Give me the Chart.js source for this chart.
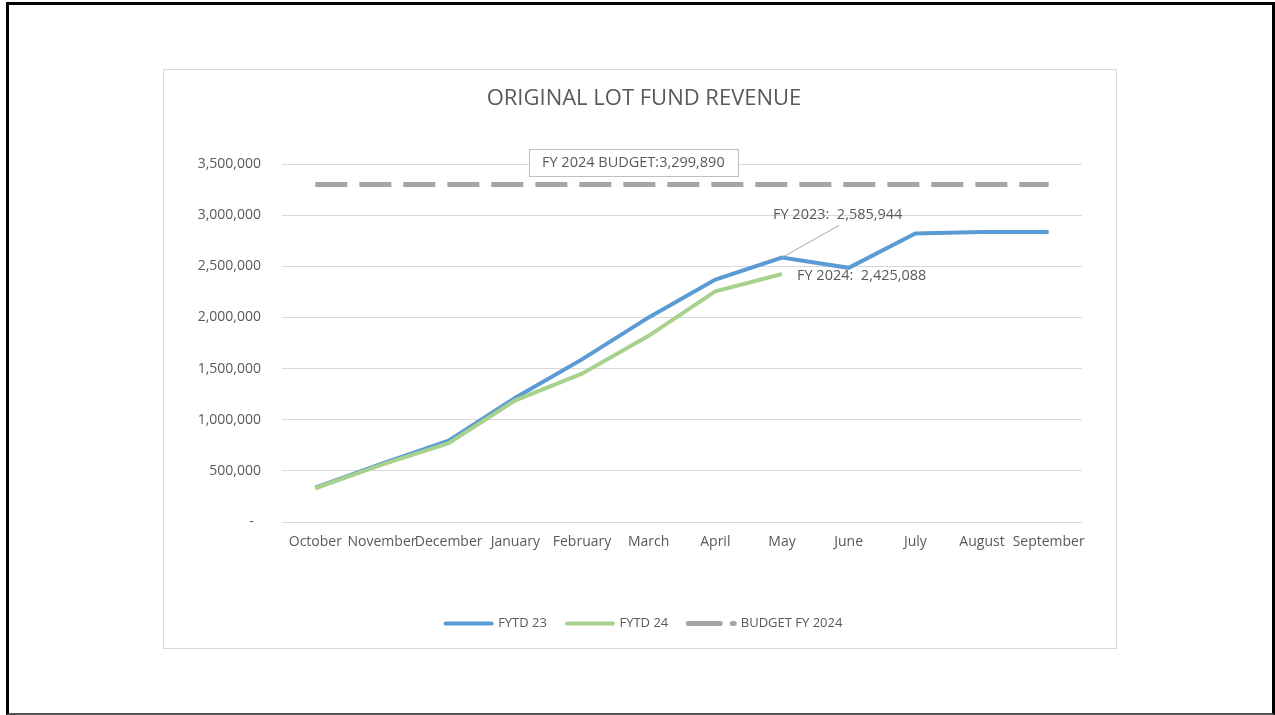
<!DOCTYPE html>
<html>
<head>
<meta charset="utf-8">
<script src="https://cdn.jsdelivr.net/npm/chart.js@4.4.1/dist/chart.umd.min.js"></script>
<style>
  html, body { margin: 0; padding: 0; background: #fff; }
  body { width: 1275px; height: 715px; position: relative; overflow: hidden; }
  #frame { position: absolute; left: 6px; top: 2px; width: 1263px; height: 708px;
           border-left: 3px solid #000; border-top: 3px solid #000; border-right: 3px solid #000; border-bottom: 2px solid #555; }
  #box { position: absolute; left: 163px; top: 69px; width: 952px; height: 578px; border: 1px solid #D9D9D9; background: #fff; }
  canvas { display: block; }
</style>
</head>
<body>
<div id="frame"></div>
<div id="box"><canvas id="c" width="952" height="578"></canvas></div>
<script>
const months = ['October','November','December','January','February','March','April','May','June','July','August','September'];
const fytd23 = [335000, 570000, 795000, 1215000, 1590000, 2000000, 2370000, 2585944, 2485000, 2820000, 2835000, 2835000];
const fytd24 = [330000, 560000, 770000, 1190000, 1450000, 1820000, 2255000, 2425088, null, null, null, null];
const budgetValue = 3299890;
const budget = months.map(() => budgetValue);
const yTicks = [0, 500000, 1000000, 1500000, 2000000, 2500000, 3000000, 3500000];
const budgetLabel = 'FY 2024 BUDGET:3,299,890';
const label23 = 'FY 2023:  2,585,944';
const label24 = 'FY 2024:  2,425,088';

const FONT = "'Open Sans', 'Liberation Sans', sans-serif";
const TXT = '#595959';

const annot = {
  id: 'annot',
  afterLayout(chart) {
    if (chart.legend) { chart.legend.left += 21; chart.legend.right += 21; }
    if (chart.titleBlock) { chart.titleBlock.left += 21; chart.titleBlock.right += 21; }
  },
  afterDatasetsDraw(chart) {
    const ctx = chart.ctx, x = chart.scales.x, y = chart.scales.y;
    ctx.save();
    ctx.font = '14.5px ' + FONT;
    ctx.fillStyle = TXT;
    ctx.textBaseline = 'middle';
    // Budget label box
    const by = y.getPixelForValue(budgetValue);
    const bx = x.getPixelForValue(4.77);
    const tw = ctx.measureText(budgetLabel).width;
    const bw = tw + 26, bh = 27;
    ctx.fillStyle = '#fff';
    ctx.fillRect(bx - bw/2, by - 22 - bh/2, bw, bh);
    ctx.strokeStyle = '#BFBFBF'; ctx.lineWidth = 1;
    ctx.strokeRect(Math.round(bx - bw/2) + 0.5, Math.round(by - 22 - bh/2) + 0.5, Math.round(bw), bh);
    ctx.fillStyle = TXT; ctx.textAlign = 'center';
    ctx.fillText(budgetLabel, bx, by - 22);
    // FY 2023 label with leader line
    const mx = x.getPixelForValue(7);
    const my = y.getPixelForValue(fytd23[7]);
    ctx.strokeStyle = '#A6A6A6'; ctx.lineWidth = 1;
    ctx.beginPath(); ctx.moveTo(mx, my); ctx.lineTo(mx + 57, my - 32); ctx.stroke();
    ctx.textAlign = 'left';
    ctx.fillText(label23, mx - 9, my - 43);
    // FY 2024 label
    const gy = y.getPixelForValue(fytd24[7]);
    ctx.fillText(label24, mx + 15, gy + 2);
    ctx.restore();
  }
};

new Chart(document.getElementById('c'), {
  type: 'line',
  data: {
    labels: months,
    datasets: [
      { label: 'FYTD 23', data: fytd23, borderColor: '#5B9BD5', backgroundColor: '#5B9BD5', borderWidth: 4, pointRadius: 0, tension: 0, order: 2 },
      { label: 'FYTD 24', data: fytd24, borderColor: '#A9D18E', backgroundColor: '#A9D18E', borderWidth: 4, pointRadius: 0, tension: 0, order: 1 },
      { label: 'BUDGET FY 2024', data: budget, borderColor: '#A5A5A5', backgroundColor: '#A5A5A5', borderWidth: 5, borderDash: [32, 12], pointRadius: 0, order: 3 }
    ]
  },
  options: {
    responsive: false,
    animation: false,
    layout: { padding: { left: 0, right: 34, top: 0, bottom: 8 } },
    plugins: {
      title: { display: true, text: 'ORIGINAL LOT FUND REVENUE', color: TXT, font: { family: FONT, size: 22, weight: 'normal' }, padding: { top: 16, bottom: 51.6 } },
      legend: {
        position: 'bottom',
        labels: {
          color: TXT, font: { family: FONT, size: 13 },
          usePointStyle: true, pointStyle: 'line', pointStyleWidth: 46, boxHeight: 13, padding: 20,
          generateLabels(chart) {
            return chart.data.datasets.map((ds, i) => ({
              text: ds.label, fillStyle: ds.borderColor, strokeStyle: ds.borderColor,
              lineWidth: ds.borderWidth, lineDash: ds.borderDash || [], lineCap: 'round', pointStyle: 'line',
              fontColor: TXT, datasetIndex: i, hidden: false
            }));
          }
        }
      },
      tooltip: { enabled: false }
    },
    scales: {
      x: {
        offset: true,
        grid: { display: false, drawTicks: false },
        border: { display: false },
        ticks: { color: TXT, font: { family: FONT, size: 14 }, padding: 12, maxRotation: 0, autoSkip: false },
        afterFit(s) { s.height = 75; }
      },
      y: {
        min: 0, max: 3500000,
        afterBuildTicks(s) { s.ticks = yTicks.map(v => ({ value: v })); },
        grid: { color: '#D9D9D9', lineWidth: 1, drawTicks: false },
        border: { display: false },
        ticks: {
          color: TXT, font: { family: FONT, size: 14 }, padding: 21,
          callback(v) { return v === 0 ? '-  ' : v.toLocaleString('en-US'); }
        },
        afterFit(s) { s.width = 118; }
      }
    }
  },
  plugins: [annot]
});
</script>
</body>
</html>
